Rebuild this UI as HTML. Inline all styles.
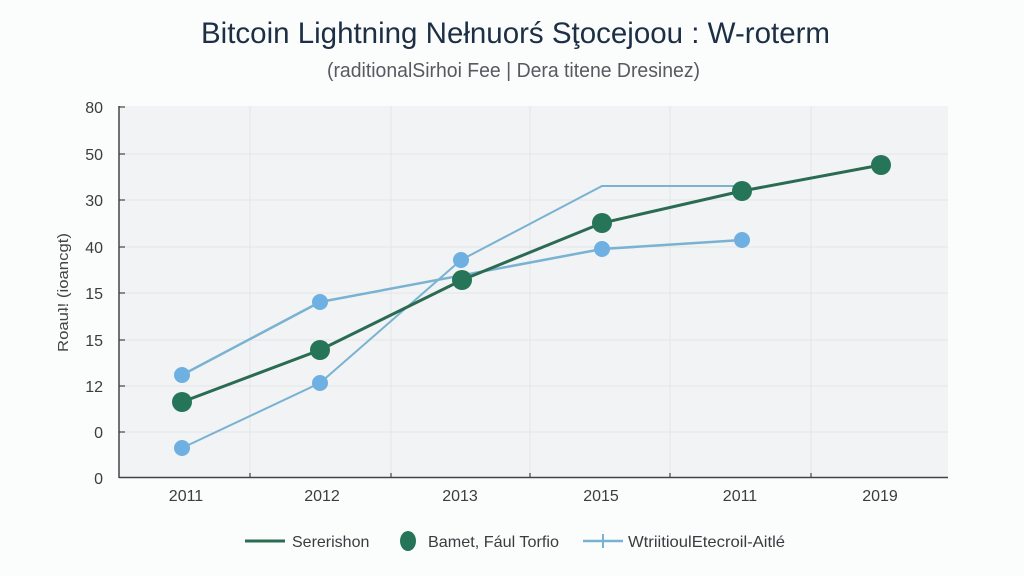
<!DOCTYPE html>
<html><head><meta charset="utf-8"><style>
html,body{margin:0;padding:0;background:#fbfcfc;}
svg{display:block;}
text{font-family:"Liberation Sans","DejaVu Sans",sans-serif;}
</style></head><body>
<svg width="1024" height="576" viewBox="0 0 1024 576" xmlns="http://www.w3.org/2000/svg">
<rect width="1024" height="576" fill="#fbfcfc"/>
<text x="201" y="43" font-size="29.5" fill="#1c2f45" textLength="629" lengthAdjust="spacingAndGlyphs">Bitcoin Lightning Nełnuorś Sţocejoou : W-roterm</text>
<text x="327" y="77" font-size="20" fill="#555b60" textLength="373" lengthAdjust="spacingAndGlyphs">(raditionalSirhoi Fee | Dera titene Dresinez)</text>
<!-- plot area -->
<rect x="119" y="106" width="829" height="371" fill="#f1f3f4"/>
<g stroke="#e2e5e7" stroke-width="1">
<line x1="119" y1="154" x2="948" y2="154"/>
<line x1="119" y1="200" x2="948" y2="200"/>
<line x1="119" y1="247" x2="948" y2="247"/>
<line x1="119" y1="293" x2="948" y2="293"/>
<line x1="119" y1="340" x2="948" y2="340"/>
<line x1="119" y1="386" x2="948" y2="386"/>
<line x1="119" y1="432" x2="948" y2="432"/>
<line x1="250" y1="106" x2="250" y2="477"/>
<line x1="391" y1="106" x2="391" y2="477"/>
<line x1="530" y1="106" x2="530" y2="477"/>
<line x1="670" y1="106" x2="670" y2="477"/>
<line x1="811" y1="106" x2="811" y2="477"/>
</g>
<g stroke="#444" stroke-width="1.5">
<line x1="119" y1="106" x2="119" y2="478"/>
<line x1="119" y1="477.5" x2="948" y2="477.5"/>
</g>
<g stroke="#444" stroke-width="1.2">
<line x1="119" y1="107" x2="125" y2="107"/>
<line x1="119" y1="154" x2="125" y2="154"/>
<line x1="119" y1="200" x2="125" y2="200"/>
<line x1="119" y1="247" x2="125" y2="247"/>
<line x1="119" y1="293" x2="125" y2="293"/>
<line x1="119" y1="340" x2="125" y2="340"/>
<line x1="119" y1="386" x2="125" y2="386"/>
<line x1="119" y1="432" x2="125" y2="432"/>
<line x1="250" y1="477" x2="250" y2="473"/>
<line x1="391" y1="477" x2="391" y2="473"/>
<line x1="530" y1="477" x2="530" y2="473"/>
<line x1="670" y1="477" x2="670" y2="473"/>
<line x1="811" y1="477" x2="811" y2="473"/>
</g>
<g font-size="16" fill="#3a3d40" text-anchor="end">
<text x="103" y="113">80</text>
<text x="103" y="160">50</text>
<text x="103" y="206">30</text>
<text x="103" y="253">40</text>
<text x="103" y="299">15</text>
<text x="103" y="346">15</text>
<text x="103" y="392">12</text>
<text x="103" y="438">0</text>
<text x="103" y="484">0</text>
</g>
<g font-size="16" fill="#3a3d40" text-anchor="middle">
<text x="186" y="501">2011</text>
<text x="322" y="501">2012</text>
<text x="460" y="501">2013</text>
<text x="601" y="501">2015</text>
<text x="740" y="501">2011</text>
<text x="880" y="501">2019</text>
</g>
<text transform="translate(68,352) rotate(-90)" font-size="15" fill="#444" textLength="119" lengthAdjust="spacingAndGlyphs">Roauʇ! (ioancgt)</text>
<!-- series A -->
<polyline points="182,375 320,302 602,249 742,240" fill="none" stroke="#7ab2d2" stroke-width="2.5"/>
<!-- series B -->
<polyline points="182,448 320,383 461,260 602,186 742,186" fill="none" stroke="#7ab2d2" stroke-width="2"/>
<!-- green -->
<polyline points="182,402 320,350 462,280 602,223 742,191 881,165" fill="none" stroke="#2b6b52" stroke-width="3"/>
<g fill="#6eb0e2">
<circle cx="182" cy="375" r="8"/><circle cx="320" cy="302" r="8"/><circle cx="602" cy="249" r="8"/><circle cx="742" cy="240" r="8"/>
<circle cx="182" cy="448" r="8"/><circle cx="320" cy="383" r="8"/><circle cx="461" cy="260" r="8"/>
</g>
<g fill="#267558">
<circle cx="182" cy="402" r="10"/><circle cx="320" cy="350" r="10"/><circle cx="462" cy="280" r="10"/><circle cx="602" cy="223" r="10"/><circle cx="742" cy="191" r="10"/><circle cx="881" cy="165" r="10"/>
</g>
<!-- legend -->
<line x1="245" y1="541" x2="285" y2="541" stroke="#2b6b52" stroke-width="3"/>
<text x="292" y="547" font-size="16" fill="#3a3d40">Sererishon</text>
<ellipse cx="408" cy="541" rx="8" ry="10" fill="#267558"/>
<text x="428" y="547" font-size="16" fill="#3a3d40" textLength="131" lengthAdjust="spacingAndGlyphs">Bamet, Fául Torfio</text>
<line x1="583" y1="541" x2="623" y2="541" stroke="#7ab2d2" stroke-width="2.5"/>
<line x1="603" y1="534" x2="603" y2="548" stroke="#7ab2d2" stroke-width="2"/>
<text x="628" y="547" font-size="16" fill="#3a3d40" textLength="157" lengthAdjust="spacingAndGlyphs">WtriitioulEtecroil-Aitlé</text>
</svg>
</body></html>
